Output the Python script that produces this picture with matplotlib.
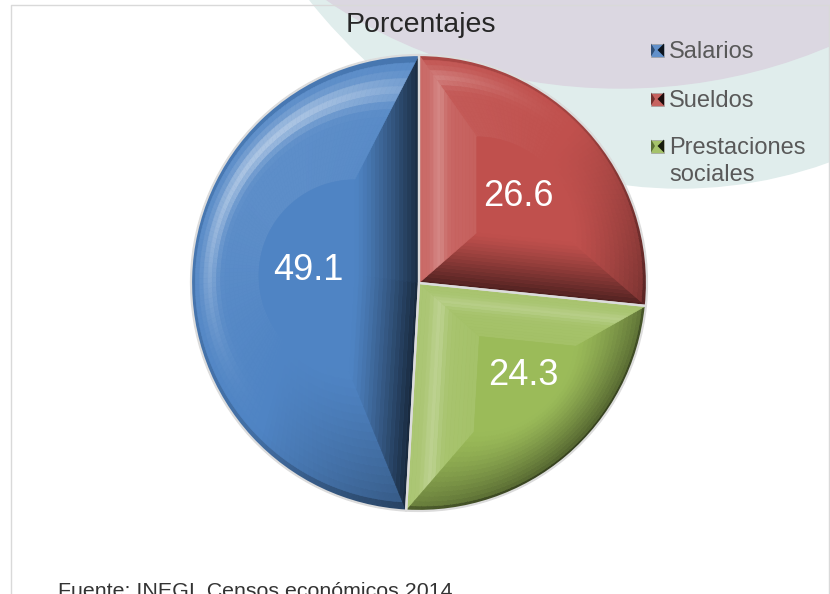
import numpy as np
import matplotlib.pyplot as plt
from matplotlib.patches import Ellipse, Wedge, Rectangle, Polygon
from matplotlib.collections import PolyCollection
from matplotlib.colors import to_rgb

plt.rcParams["font.family"] = ["Liberation Sans", "DejaVu Sans"]

categorias = ["Salarios", "Sueldos", "Prestaciones\nsociales"]
porcentajes = [49.1, 26.6, 24.3]
colores = ["#4F84C4", "#C0504D", "#9BBB59"]
# orden en el pastel (contra reloj desde arriba): Salarios, Prestaciones, Sueldos
orden_pie = [0, 2, 1]
titulo = "Porcentajes"
fuente = "Fuente: INEGI. Censos económicos 2014"

W, H = 830, 594
centro = (419, H - 283)
radio = 228
luz = 135.0  # direccion de la luz para el bisel
# posicion de etiquetas (fraccion del radio, giro respecto a la bisectriz)
pos_etiqueta = {0: (0.49, -5), 1: (0.58, -1), 2: (0.61, 8)}


def sombra(rgb, v):
    rgb = np.array(rgb)
    if v > 0:
        return tuple(rgb + (1 - rgb) * min(v, 1))
    return tuple(rgb * (1 + max(v, -1)))


def bisel(ax, w, base, c, k=0.42, nu=16):
    t1, t2 = w.theta1, w.theta2
    cx, cy = w.center
    r = w.r
    C = np.array([cx, cy])
    angs = np.linspace(t1, t2, max(int((t2 - t1) / 1.5), 2) + 1)
    arco = np.column_stack([cx + r * np.cos(np.radians(angs)),
                            cy + r * np.sin(np.radians(angs))])
    us = np.linspace(0, 1, nu + 1)
    polys, cols = [], []

    def tira(pa, pb, phi, tipo):
        b = np.cos(np.radians(phi - luz))
        for j in range(nu):
            ka = 1 - (1 - k) * us[j]
            kb = 1 - (1 - k) * us[j + 1]
            um = (us[j] + us[j + 1]) / 2
            if tipo == "arco":
                if b < 0:
                    v = b * 0.5 * (1 - um) ** 1.3
                else:
                    v = b * 0.08 + 0.45 * b ** 2 * np.exp(-((um - 0.28) / 0.11) ** 2)
                v -= 0.25 * np.exp(-(um / 0.05) ** 2)
            else:
                if b < 0:
                    v = b * 0.95 * (1 - um) ** 1.2
                else:
                    v = b * 0.22 * (1 - 0.4 * um) + 0.25 * b * np.exp(-((um - 0.35) / 0.12) ** 2)
            polys.append([c + ka * (pa - c), c + ka * (pb - c),
                          c + kb * (pb - c), c + kb * (pa - c)])
            cols.append(sombra(base, v))

    tira(C, arco[0], t1 - 90, "lado")
    for a0, a1, p0, p1 in zip(angs[:-1], angs[1:], arco[:-1], arco[1:]):
        tira(p0, p1, (a0 + a1) / 2, "arco")
    tira(arco[-1], C, t2 + 90, "lado")
    polys.append([c + k * (p - c) for p in np.vstack([C, arco])])
    cols.append(tuple(base))
    ax.add_collection(PolyCollection(polys, facecolors=cols, edgecolors=cols,
                                     linewidths=0.4, zorder=1.5))


fig = plt.figure(figsize=(W / 100, H / 100), dpi=100)
ax = fig.add_axes([0, 0, 1, 1])

# fondo
ax.add_patch(Ellipse((680, H + 400), 1010, 1176, color="#e0edec", zorder=0.1))
ax.add_patch(Ellipse((620, H + 300), 924, 776, color="#dbd7e1", zorder=0.2))
ax.plot([11, 11, 829, 829], [0, H - 5, H - 5, 0], color="#d9d9d9", lw=1, zorder=0.5)

valores = [porcentajes[i] for i in orden_pie]
cols_pie = [colores[i] for i in orden_pie]
wedges, _, autotexts = ax.pie(valores, colors=cols_pie, startangle=90, counterclock=True,
                              center=centro, radius=radio, autopct="%.1f",
                              wedgeprops=dict(edgecolor="none"),
                              textprops=dict(color="white", fontsize=26))

for w, idx, t in zip(wedges, orden_pie, autotexts):
    d, giro = pos_etiqueta[idx]
    tm = np.radians((w.theta1 + w.theta2) / 2 + giro)
    c = np.array([centro[0] + d * radio * np.cos(tm), centro[1] + d * radio * np.sin(tm)])
    t.set_position(c)
    t.set_zorder(4)
    bisel(ax, w, to_rgb(colores[idx]), c)
    ax.add_patch(Wedge(w.center, w.r, w.theta1, w.theta2, fill=False,
                       edgecolor="#dcdcdc", lw=1.6, zorder=2))

# leyenda
leg_y = [50, 99, 146]
for cat, col, yy in zip(categorias, colores, leg_y):
    y = H - yy
    rgb = to_rgb(col)
    ax.add_patch(Rectangle((651, y - 6.5), 13, 13, facecolor=sombra(rgb, 0.1),
                           edgecolor="#a0a0a0", lw=0.5, zorder=3))
    ax.add_patch(Polygon([(664, y - 6.5), (664, y + 6.5), (657.5, y)], closed=True,
                         facecolor=sombra(rgb, -0.85), edgecolor="none", zorder=3.1))
    ax.add_patch(Polygon([(651, y - 6.5), (651, y + 6.5), (655, y)], closed=True,
                         facecolor=sombra(rgb, -0.4), edgecolor="none", zorder=3.1))
    for n, linea in enumerate(cat.split("\n")):
        ax.text(669, y - 8 - 27 * n, linea, fontsize=17, color="#595959",
                va="baseline", ha="left", zorder=3)

ax.text(421, H - 32, titulo, fontsize=20.5, ha="center", va="baseline", color="#262626")
ax.text(58, -3, fuente, fontsize=15.4, ha="left", va="baseline", color="#333333")

ax.set_xlim(0, W)
ax.set_ylim(0, H)
ax.set_aspect("equal")
ax.axis("off")

fig.savefig("out.png", dpi=100)
